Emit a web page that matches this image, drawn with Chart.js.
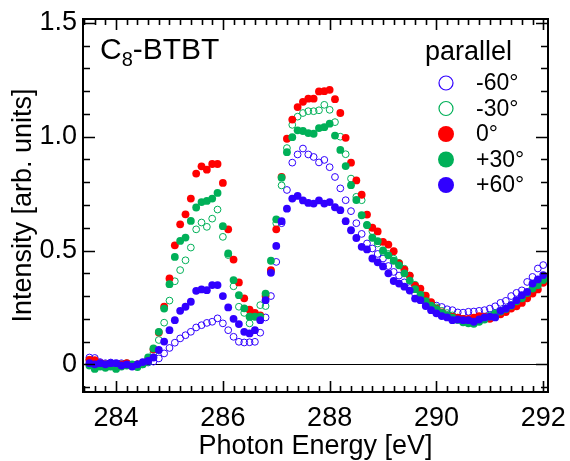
<!DOCTYPE html>
<html>
<head>
<meta charset="utf-8">
<script src="https://cdn.jsdelivr.net/npm/chart.js@4.4.1/dist/chart.umd.min.js"></script>
<style>
    html, body { margin: 0; padding: 0; background: #fff; }
    canvas { display: block; }
</style>
</head>
<body>
<canvas id="spectrum" width="570" height="461"></canvas>
<script>
/* global Chart */

// photon energy grid (eV)
const energy = [
    283.5, 283.6, 283.7, 283.8, 283.9, 284.0, 284.1, 284.2, 284.3, 284.4,
    284.5, 284.6, 284.7, 284.8, 284.9, 285.0, 285.1, 285.2, 285.3, 285.4,
    285.5, 285.6, 285.7, 285.8, 285.9, 286.0, 286.1, 286.2, 286.3, 286.4,
    286.5, 286.6, 286.7, 286.8, 286.9, 287.0, 287.1, 287.2, 287.3, 287.4,
    287.5, 287.6, 287.7, 287.8, 287.9, 288.0, 288.1, 288.2, 288.3, 288.4,
    288.5, 288.6, 288.7, 288.8, 288.9, 289.0, 289.1, 289.2, 289.3, 289.4,
    289.5, 289.6, 289.7, 289.8, 289.9, 290.0, 290.1, 290.2, 290.3, 290.4,
    290.5, 290.6, 290.7, 290.8, 290.9, 291.0, 291.1, 291.2, 291.3, 291.4,
    291.5, 291.6, 291.7, 291.8, 291.9, 292.0
];

const minus60 = [
    0.03, 0.028, 0.01, 0.005, 0.008, 0.0, 0.005, 0.0, -0.005, 0.0,
    0.005, 0.008, 0.012, 0.026, 0.048, 0.072, 0.095, 0.114, 0.128, 0.143,
    0.162, 0.172, 0.182, 0.187, 0.202, 0.18, 0.15, 0.121, 0.099, 0.096,
    0.097, 0.099, 0.139, 0.206, 0.30, 0.45, 0.62, 0.766, 0.886, 0.922,
    0.948, 0.922, 0.911, 0.887, 0.898, 0.866, 0.823, 0.773, 0.721, 0.673,
    0.62, 0.573, 0.531, 0.509, 0.485, 0.465, 0.432, 0.406, 0.39, 0.36,
    0.335, 0.31, 0.29, 0.272, 0.262, 0.258, 0.252, 0.242, 0.238, 0.228,
    0.227, 0.231, 0.232, 0.235, 0.238, 0.245, 0.255, 0.27, 0.279, 0.3,
    0.314, 0.325, 0.362, 0.384, 0.421, 0.436
];

const minus30 = [
    0.02, 0.01, -0.005, 0.0, 0.0, -0.01, 0.0, 0.005, -0.005, 0.0,
    0.0, 0.01, 0.05, 0.107, 0.183, 0.28, 0.365, 0.414, 0.457, 0.513,
    0.593, 0.623, 0.604, 0.64, 0.68, 0.56, 0.48, 0.343, 0.253, 0.226,
    0.18, 0.212, 0.26, 0.256, 0.41, 0.62, 0.786, 0.95, 1.052, 1.088,
    1.104, 1.112, 1.112, 1.116, 1.14, 1.118, 1.064, 1.0, 0.923, 0.816,
    0.736, 0.721, 0.611, 0.585, 0.531, 0.494, 0.485, 0.464, 0.446, 0.42,
    0.39, 0.35, 0.32, 0.29, 0.27, 0.25, 0.235, 0.225, 0.215, 0.205,
    0.2, 0.195, 0.19, 0.2, 0.205, 0.215, 0.225, 0.235, 0.245, 0.26,
    0.28, 0.295, 0.315, 0.335, 0.355, 0.38
];

const zero = [
    0.02, 0.018, 0.005, 0.0, 0.002, -0.005, 0.0, 0.005, -0.002, 0.0,
    0.005, 0.02, 0.065, 0.14, 0.253, 0.377, 0.523, 0.615, 0.659, 0.728,
    0.838, 0.87, 0.855, 0.88, 0.88, 0.797, 0.593, 0.46, 0.36, 0.29,
    0.24, 0.226, 0.215, 0.30, 0.414, 0.593, 0.823, 0.991, 1.075, 1.13,
    1.153, 1.167, 1.167, 1.199, 1.2, 1.206, 1.165, 1.104, 0.995, 0.886,
    0.808, 0.745, 0.658, 0.6, 0.584, 0.538, 0.526, 0.497, 0.443, 0.416,
    0.39, 0.346, 0.333, 0.302, 0.273, 0.245, 0.228, 0.215, 0.21, 0.205,
    0.2, 0.2, 0.205, 0.212, 0.21, 0.2, 0.21, 0.22, 0.23, 0.245,
    0.255, 0.27, 0.29, 0.311, 0.329, 0.358
];

const plus30 = [
    -0.005, -0.02, -0.01, -0.015, -0.01, -0.02, -0.01, -0.005, 0.0, -0.012,
    0.0, 0.03, 0.07, 0.143, 0.245, 0.352, 0.472, 0.542, 0.557, 0.63,
    0.689, 0.713, 0.718, 0.728, 0.753, 0.607, 0.487, 0.37, 0.304, 0.246,
    0.209, 0.209, 0.209, 0.311, 0.455, 0.637, 0.82, 0.932, 0.998, 1.028,
    1.025, 1.016, 1.013, 1.038, 1.042, 1.057, 1.005, 0.942, 0.871, 0.787,
    0.722, 0.655, 0.612, 0.556, 0.541, 0.501, 0.479, 0.455, 0.435, 0.4,
    0.368, 0.33, 0.305, 0.278, 0.258, 0.242, 0.226, 0.216, 0.205, 0.195,
    0.185, 0.18, 0.178, 0.187, 0.197, 0.21, 0.222, 0.232, 0.243, 0.257,
    0.277, 0.29, 0.313, 0.333, 0.348, 0.37
];

const plus60 = [
    0.005, 0.0, 0.005, 0.0, 0.005, 0.005, -0.005, 0.0, -0.01, 0.0,
    0.01, 0.015, 0.03, 0.063, 0.10, 0.15, 0.194, 0.235, 0.253, 0.275,
    0.323, 0.329, 0.326, 0.348, 0.348, 0.30, 0.25, 0.20, 0.177, 0.143,
    0.136, 0.15, 0.194, 0.282, 0.402, 0.52, 0.629, 0.684, 0.728, 0.74,
    0.72, 0.709, 0.706, 0.72, 0.706, 0.713, 0.69, 0.677, 0.629, 0.589,
    0.555, 0.516, 0.505, 0.465, 0.448, 0.43, 0.40, 0.366, 0.355, 0.341,
    0.324, 0.289, 0.282, 0.256, 0.238, 0.224, 0.212, 0.206, 0.194, 0.197,
    0.194, 0.194, 0.187, 0.197, 0.206, 0.21, 0.206, 0.235, 0.245, 0.26,
    0.282, 0.304, 0.318, 0.355, 0.373, 0.392
];

const seriesLabels = ['-60°', '-30°', '0°', '+30°', '+60°'];
const xTicks = [284, 286, 288, 290, 292];
const yTicks = [0, 0.5, 1.0, 1.5];

const BLUE = 'rgb(48, 0, 255)';
const GREEN = 'rgb(0, 176, 88)';
const RED = 'rgb(255, 0, 0)';
const FONT = "'Liberation Sans', Arial, sans-serif";

function toPoints(values) {
    return energy.map((e, i) => ({ x: e, y: values[i] }));
}

function openSeries(label, values, color, order) {
    return {
        label,
        data: toPoints(values),
        pointStyle: 'circle',
        pointRadius: 3.4,
        pointBorderWidth: 1,
        pointBorderColor: color,
        pointBackgroundColor: 'rgba(0,0,0,0)',
        borderColor: color,
        backgroundColor: 'rgba(0,0,0,0)',
        order,
        hollow: true
    };
}

function filledSeries(label, values, color, order) {
    return {
        label,
        data: toPoints(values),
        pointStyle: 'circle',
        pointRadius: 3.9,
        pointBorderWidth: 0,
        pointBackgroundColor: color,
        borderColor: color,
        backgroundColor: color,
        order,
        hollow: false
    };
}

// inward tick marks on all four sides, frame and zero line
const framePlugin = {
    id: 'frame',
    beforeDatasetsDraw(chart) {
        const { ctx, chartArea: a, scales: { y } } = chart;
        const y0 = Math.round(y.getPixelForValue(0)) + 0.5;
        ctx.save();
        ctx.strokeStyle = '#000';
        ctx.lineWidth = 1.2;
        ctx.beginPath();
        ctx.moveTo(a.left, y0);
        ctx.lineTo(a.right, y0);
        ctx.stroke();
        ctx.restore();
    },
    afterDatasetsDraw(chart) {
        const { ctx, chartArea: a, scales: { x, y } } = chart;
        ctx.save();
        ctx.strokeStyle = '#000';
        ctx.lineWidth = 1.6;
        ctx.beginPath();
        for (let i = 0; i <= 44; i++) {
            const v = 283.4 + i * 0.2;
            if (v > x.max) break;
            const major = Math.abs(v / 2 - Math.round(v / 2)) < 1e-6;
            const len = major ? 11 : 6;
            const px = Math.round(x.getPixelForValue(v)) + 0.5;
            ctx.moveTo(px, a.bottom);
            ctx.lineTo(px, a.bottom - len);
            ctx.moveTo(px, a.top);
            ctx.lineTo(px, a.top + len);
        }
        for (let i = 0; i <= 16; i++) {
            const v = -0.1 + i * 0.1;
            const major = Math.abs(v / 0.5 - Math.round(v / 0.5)) < 1e-6;
            const len = major ? 12 : 7;
            const py = Math.round(y.getPixelForValue(v)) + 0.5;
            ctx.moveTo(a.left, py);
            ctx.lineTo(a.left + len, py);
            ctx.moveTo(a.right, py);
            ctx.lineTo(a.right - len, py);
        }
        ctx.stroke();
        ctx.lineWidth = 2;
        ctx.strokeRect(a.left, a.top, a.right - a.left, a.bottom - a.top);
        ctx.restore();
    },
    afterDraw(chart) {
        const { ctx } = chart;
        ctx.save();
        ctx.fillStyle = '#000';
        ctx.textBaseline = 'alphabetic';

        // sample name with subscript
        let tx = 100;
        ctx.font = `30px ${FONT}`;
        ctx.fillText('C', tx, 59);
        tx += ctx.measureText('C').width;
        ctx.font = `20px ${FONT}`;
        ctx.fillText('8', tx, 66);
        tx += ctx.measureText('8').width;
        ctx.font = `30px ${FONT}`;
        ctx.fillText('-BTBT', tx, 59);

        // legend
        ctx.font = `27px ${FONT}`;
        ctx.fillText('parallel', 425, 60);
        ctx.font = `23px ${FONT}`;
        ctx.textBaseline = 'middle';
        const rows = [83, 108.5, 134, 159.5, 185];
        chart.data.datasets.forEach((ds, i) => {
            const cy = rows[i];
            ctx.beginPath();
            if (ds.hollow) {
                ctx.arc(446, cy, 7, 0, Math.PI * 2);
                ctx.lineWidth = 1.2;
                ctx.strokeStyle = ds.borderColor;
                ctx.stroke();
            } else {
                ctx.arc(446, cy, 8, 0, Math.PI * 2);
                ctx.fillStyle = ds.backgroundColor;
                ctx.fill();
            }
            ctx.fillStyle = '#000';
            ctx.fillText(ds.label, 476, cy + 1);
        });
        ctx.restore();
    }
};

new Chart(document.getElementById('spectrum'), {
    type: 'scatter',
    data: {
        datasets: [
            openSeries(seriesLabels[0], minus60, BLUE, 5),
            openSeries(seriesLabels[1], minus30, GREEN, 4),
            filledSeries(seriesLabels[2], zero, RED, 3),
            filledSeries(seriesLabels[3], plus30, GREEN, 2),
            filledSeries(seriesLabels[4], plus60, BLUE, 1)
        ]
    },
    options: {
        responsive: false,
        devicePixelRatio: 1,
        animation: false,
        layout: {
            padding: { top: 19, right: 22, bottom: 0, left: 0 }
        },
        plugins: {
            legend: { display: false },
            tooltip: { enabled: false }
        },
        scales: {
            x: {
                type: 'linear',
                position: 'bottom',
                min: 283.38,
                max: 292.09,
                afterBuildTicks: scale => {
                    scale.ticks = xTicks.map(v => ({ value: v }));
                },
                afterFit: scale => {
                    scale.height = 69;
                    scale.paddingLeft = 0;
                    scale.paddingRight = 0;
                },
                grid: { display: false, drawTicks: false },
                border: { display: false },
                ticks: {
                    color: '#000',
                    font: { family: FONT, size: 27 },
                    padding: 10,
                    maxRotation: 0
                },
                title: {
                    display: true,
                    text: 'Photon Energy [eV]',
                    color: '#000',
                    font: { family: FONT, size: 27, lineHeight: 1 },
                    padding: { top: 0, bottom: 1 }
                }
            },
            y: {
                type: 'linear',
                position: 'left',
                min: -0.1215,
                max: 1.517,
                afterBuildTicks: scale => {
                    scale.ticks = yTicks.map(v => ({ value: v }));
                },
                afterFit: scale => {
                    scale.width = 83;
                    scale.paddingTop = 0;
                    scale.paddingBottom = 0;
                },
                grid: { display: false, drawTicks: false },
                border: { display: false },
                ticks: {
                    color: '#000',
                    font: { family: FONT, size: 27 },
                    padding: 6,
                    callback: v => (v === 0 ? '0' : v.toFixed(1))
                },
                title: {
                    display: true,
                    text: 'Intensity [arb. units]',
                    color: '#000',
                    font: { family: FONT, size: 27, lineHeight: 1 },
                    padding: { top: 10, bottom: 0 }
                }
            }
        }
    },
    plugins: [framePlugin]
});
</script>
</body>
</html>
